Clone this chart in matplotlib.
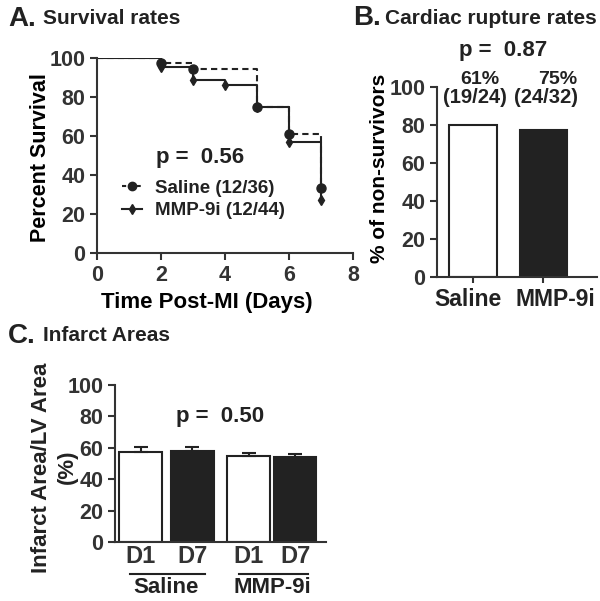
import numpy as np
from matplotlib import pyplot as plt
import matplotlib.transforms as mtransforms

plt.rcParams['font.family'] = ['Liberation Sans', 'DejaVu Sans']
plt.rcParams['font.weight'] = 'bold'
plt.rcParams['axes.linewidth'] = 1.5
plt.rcParams['axes.edgecolor'] = '#333333'
plt.rcParams['xtick.color'] = '#333333'
plt.rcParams['ytick.color'] = '#333333'
plt.rcParams['text.color'] = '#222222'

# A. survival data
sal_days = [0, 2, 3, 5, 6, 7]
sal_surv = [100, 97.2, 94.4, 75, 61, 33.3]
mmp_days = [0, 2, 3, 4, 5, 6, 7]
mmp_surv = [100, 95.5, 88.6, 86.4, 75, 56.8, 27.3]

# B. rupture rates
rup_groups = ['Saline', 'MMP-9i']
rup_vals = [80, 77.5]
rup_pct = ['61%', '75%']
rup_frac = ['(19/24)', '(24/32)']

# C. infarct areas
inf_labels = ['D1', 'D7', 'D1', 'D7']
inf_vals = [57.5, 57.8, 55.0, 54.3]
inf_err = [3.0, 2.8, 1.8, 1.8]
inf_groups = ['Saline', 'MMP-9i']

dark = '#222222'
fig = plt.figure(figsize=(6, 6.01), dpi=100)

# ---------- A ----------
axA = fig.add_axes([97/600, 1-253/601, 256/600, 195/601])
axA.step(sal_days, sal_surv, where='post', color=dark, lw=1.5, ls=(0, (3, 2)))
axA.step(mmp_days, mmp_surv, where='post', color=dark, lw=1.5)
axA.plot(sal_days[1:], sal_surv[1:], 'o', color=dark, ms=6.5, clip_on=False)
axA.plot(mmp_days[1:], mmp_surv[1:], 'd', color=dark, ms=5, clip_on=False)
axA.set_xlim(0, 8)
axA.set_ylim(0, 100)
axA.set_xticks([0, 2, 4, 6, 8])
axA.set_yticks([0, 20, 40, 60, 80, 100])
axA.tick_params(labelsize=15.5, width=1.5, length=5)
axA.spines['top'].set_visible(False)
axA.spines['right'].set_visible(False)
axA.set_xlabel('Time Post-MI (Days)', fontsize=16, fontweight='bold')
axA.xaxis.set_label_coords(0.43, -0.2)
axA.set_ylabel('Percent Survival', fontsize=15.5, fontweight='bold')
axA.yaxis.set_label_coords(-0.18, 0.49)
axA.text(1.85, 49, 'p =  0.56', fontsize=16, fontweight='bold', va='center')
h1, = axA.plot([], [], color=dark, ls=(0, (2, 1.5)), marker='o', ms=6, lw=1.5)
h2, = axA.plot([], [], color=dark, marker='d', ms=5, lw=1.5)
axA.legend([h1, h2], ['Saline (12/36)', 'MMP-9i (12/44)'], loc='center left',
           bbox_to_anchor=(0.03, 0.275), frameon=False, handlelength=1.1,
           handletextpad=0.7, labelspacing=0.3,
           prop={'size': 13.5, 'weight': 'bold'})
fig.text(8/600, 1-19/601, 'A.', fontsize=20, fontweight='bold', va='center')
fig.text(43/600, 1-19/601, 'Survival rates', fontsize=15, fontweight='bold', va='center')

# ---------- B ----------
axB = fig.add_axes([437/600, 1-277/601, 160/600, 190/601])
xb = np.arange(len(rup_groups))
axB.bar(xb, rup_vals, width=0.67, color=['white', dark], edgecolor=dark, linewidth=1.5)
axB.set_xlim(-0.51, 1.76)
axB.set_ylim(0, 100)
axB.set_yticks([0, 20, 40, 60, 80, 100])
axB.set_xticks(xb)
axB.set_xticklabels([])
axB.tick_params(axis='y', labelsize=15.5, width=1.5, length=5)
axB.tick_params(axis='x', width=1.5, length=4)
axB.spines['top'].set_visible(False)
axB.spines['right'].set_visible(False)
transB = mtransforms.blended_transform_factory(axB.transData, axB.transAxes)
for i, name in enumerate(rup_groups):
    axB.text(xb[i] + (-0.07 if i == 0 else 0.17), -0.12, name, fontsize=16.5,
             fontweight='bold', ha='center', va='center', transform=transB)
axB.set_ylabel('% of non-survivors', fontsize=15, fontweight='bold')
axB.yaxis.set_label_coords(-0.30, 0.57)
axB.text(0.43, 119, 'p =  0.87', fontsize=16, fontweight='bold', ha='center', va='center', clip_on=False)
for i in range(len(rup_groups)):
    axB.text(xb[i] + (0.1 if i == 0 else 0.2), 103.7, rup_pct[i], fontsize=14,
             fontweight='bold', ha='center', va='center', clip_on=False)
    axB.text(xb[i] + 0.03, 94.5, rup_frac[i], fontsize=14.5,
             fontweight='bold', ha='center', va='center', clip_on=False)
fig.text(353/600, 1-18/601, 'B.', fontsize=20, fontweight='bold', va='center')
fig.text(385/600, 1-18/601, 'Cardiac rupture rates', fontsize=15, fontweight='bold', va='center')

# ---------- C ----------
axC = fig.add_axes([115/600, 1-542/601, 211/600, 157/601])
xc = np.array([0, 1, 2.1, 3.0])
axC.bar(xc, inf_vals, width=0.83, color=['white', dark, 'white', dark],
        edgecolor=dark, linewidth=1.5)
axC.errorbar(xc, inf_vals, yerr=[np.zeros(4), inf_err], fmt='none',
             ecolor=dark, elinewidth=1.5, capsize=5, capthick=1.5)
axC.set_xlim(-0.5, 3.6)
axC.set_ylim(0, 100)
axC.set_yticks([0, 20, 40, 60, 80, 100])
axC.tick_params(axis='y', labelsize=15.5, width=1.5, length=5)
axC.set_xticks(xc)
axC.set_xticklabels(inf_labels, fontsize=17, fontweight='bold')
axC.tick_params(axis='x', length=0, pad=2)
axC.spines['top'].set_visible(False)
axC.spines['right'].set_visible(False)
axC.text(-0.35, 0.47, 'Infarct Area/LV Area', fontsize=16, fontweight='bold',
         rotation=90, ha='center', va='center', transform=axC.transAxes)
axC.text(-0.225, 0.48, '(%)', fontsize=16, fontweight='bold',
         rotation=90, ha='center', va='center', transform=axC.transAxes)
axC.text(1.55, 80, 'p =  0.50', fontsize=16, fontweight='bold', ha='center', va='center')
trans = mtransforms.blended_transform_factory(axC.transData, axC.transAxes)
for g in range(len(inf_groups)):
    x0, x1 = xc[2*g] - 0.2, xc[2*g+1] + 0.25
    axC.plot([x0, x1], [-0.205, -0.205], color=dark, lw=1.5, transform=trans, clip_on=False)
    axC.text((xc[2*g] + xc[2*g+1]) / 2, -0.29, inf_groups[g], fontsize=16,
             fontweight='bold', ha='center', va='center', transform=trans)
fig.text(8/600, 1-336/601, 'C.', fontsize=20, fontweight='bold', va='center')
fig.text(43/600, 1-336/601, 'Infarct Areas', fontsize=15, fontweight='bold', va='center')

plt.savefig('out.png', dpi=100)
